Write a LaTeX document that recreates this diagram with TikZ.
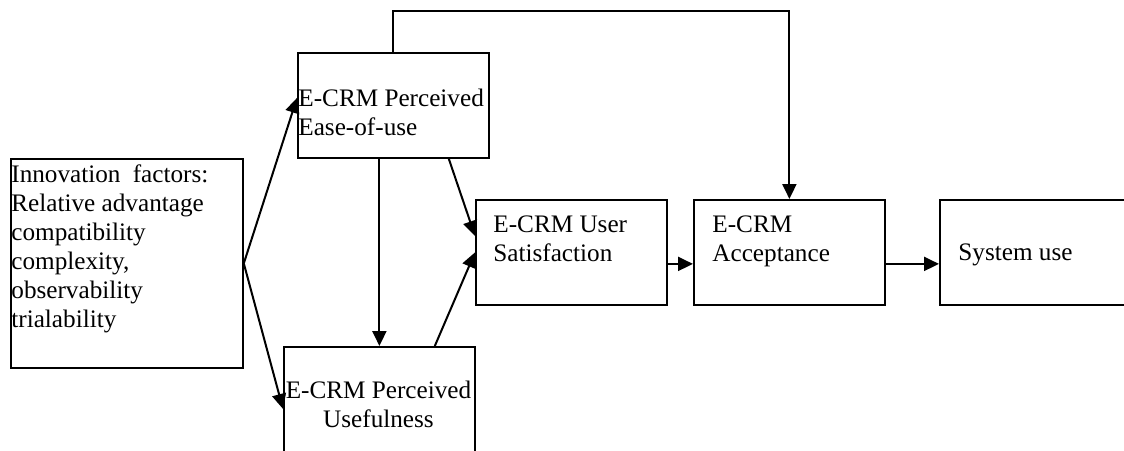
\documentclass[tikz,border=0pt]{standalone}
\usepackage{fontspec}
\setmainfont{Liberation Serif}
\usetikzlibrary{arrows.meta}

\begin{document}
\begin{tikzpicture}[x=0.5pt,y=-0.5pt,>={Triangle[length=7.5pt,width=7pt]},
  box/.style={draw,line width=0.9pt,inner sep=0pt,anchor=north west},
  txt/.style={inner sep=0pt,font=\fontsize{12.6}{14.5}\selectfont},
  link/.style={->,line width=1pt}]
 \useasboundingbox (0,0) rectangle (1124,450);
 \clip (0,0) rectangle (1124,450);
 % boxes
 \node [box,minimum width=116pt,minimum height=104.5pt] (inno) at (10,158) {};
 \node [box,minimum width=95.5pt,minimum height=52.5pt] (ease) at (297,52) {};
 \node [box,minimum width=95.5pt,minimum height=62pt] (useful) at (283,346) {};
 \node [box,minimum width=95.5pt,minimum height=52.5pt] (satisf) at (475,199) {};
 \node [box,minimum width=95.5pt,minimum height=52.5pt] (accept) at (693,199) {};
 \node [box,minimum width=95.5pt,minimum height=52.5pt] (sys) at (939,199) {};
 % texts (base = last line)
 \node [txt,anchor=base west,align=left] (innotxt) at (11,327)
  {\makebox[98.5pt][s]{Innovation factors:}\\Relative advantage\\compatibility\\complexity,\\observability\\trialability};
 \node [txt,anchor=base west,align=left] (easetxt) at (298,135) {E-CRM Perceived\\Ease-of-use};
 \node [txt,anchor=base,align=center] (usefultxt) at (378.5,427) {E-CRM Perceived\\Usefulness};
 \node [txt,anchor=base west,align=left] (satisftxt) at (493,261) {E-CRM User\\Satisfaction};
 \node [txt,anchor=base west,align=left] (accepttxt) at (712,261) {E-CRM\\Acceptance};
 \node [txt,anchor=base west] (systxt) at (958,260) {System use};
 % links
 \draw [link] (inno.east) -- ([yshift=3.75pt]ease.west);
 \draw [link] (inno.east) -- (useful.west);
 \draw [link] (ease.south -| useful.north) -- (useful.north);
 \draw [link] ([xshift=-20.5pt]ease.south east) -- ([yshift=8.25pt]satisf.west);
 \draw [link] ([xshift=-20.5pt]useful.north east) -- (satisf.west);
 \draw [link] ([yshift=-5.75pt]satisf.east) -- ([yshift=-5.75pt]accept.west);
 \draw [link] ([yshift=-5.75pt]accept.east) -- ([yshift=-5.75pt]sys.west);
 \draw [link] (ease.north) -- ++(0,-41) -| (accept.north);
\end{tikzpicture}
\end{document}
